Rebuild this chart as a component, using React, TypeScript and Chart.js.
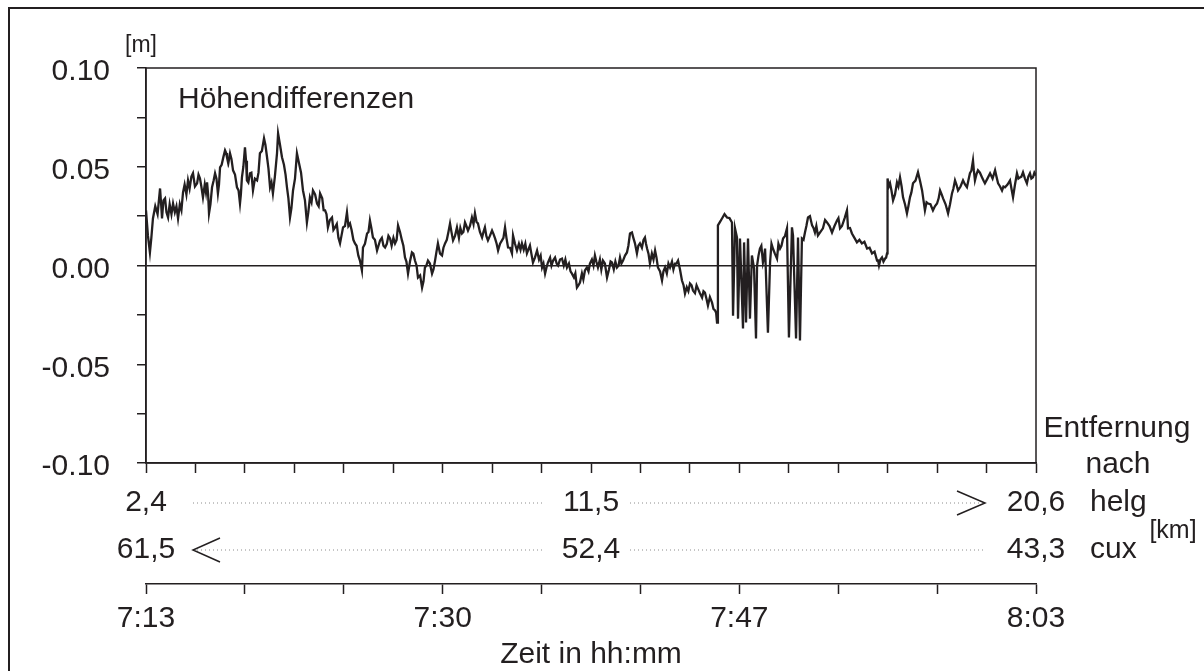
import { useEffect, useRef } from 'react';
import { Chart, registerables } from 'chart.js';

Chart.register(...registerables);

const INK = '#231f20';
const FONT = "'Liberation Sans', Arial, Helvetica, sans-serif";

// Time axis: 7:13 to 8:03, measured in minutes after 7:13, split into 18 tick intervals.
const SPAN_MINUTES = 50;
const TICK_INTERVALS = 18;
const timeLabels = ['7:13', '7:30', '7:47', '8:03'];
const timeLabelTicks = [0, 6, 12, 18];

// Distance rows (km) towards Helgoland and Cuxhaven.
const helgKm = ['2,4', '11,5', '20,6'];
const cuxKm = ['61,5', '52,4', '43,3'];
const kmLabelTicks = [0, 9, 18];

// Height axis (m).
const yTicks = [-0.1, -0.075, -0.05, -0.025, 0, 0.025, 0.05, 0.075, 0.1];
const yLabelled = [-0.1, -0.05, 0, 0.05, 0.1];

// Height differences: [minutes after 7:13, metres]
const traceStart: [number, number][] = [
  [0.0, 0.0279], [0.22, 0.0066], [0.39, 0.0238], [0.79, 0.039], [0.9, 0.0238], [1.07, 0.034], [1.24, 0.0243], [1.52, 0.0314], [1.8, 0.0238], [2.08, 0.037],
  [2.36, 0.0431], [2.64, 0.0467], [2.87, 0.0416], [3.03, 0.0441], [3.2, 0.0345], [3.43, 0.0421], [3.54, 0.0264], [3.71, 0.0396], [3.88, 0.0467], [4.04, 0.0365],
  [4.16, 0.0497], [4.44, 0.0583], [4.55, 0.0548], [4.72, 0.0568], [4.89, 0.0482], [5.11, 0.0396], [5.28, 0.0314], [5.39, 0.0446], [5.56, 0.0598], [5.67, 0.0431],
  [5.84, 0.0467], [6.01, 0.038], [6.24, 0.0431], [6.4, 0.0568], [6.63, 0.0644], [6.8, 0.0548], [6.97, 0.0396], [7.13, 0.0365], [7.36, 0.0568], [7.42, 0.0669],
  [7.64, 0.0548], [7.92, 0.0396], [8.09, 0.0243], [8.26, 0.038], [8.48, 0.0568], [8.6, 0.0517], [8.82, 0.038], [9.04, 0.0218], [9.21, 0.0345], [9.38, 0.038],
  [9.61, 0.0314], [9.78, 0.0365], [10.06, 0.0279], [10.22, 0.0193],
];
const traceStartRipple: [number, number][] = [
  [0.11, 0.015], [0.3, 0.014], [0.52, 0.03], [0.65, 0.026], [0.85, 0.031], [0.98, 0.033], [1.15, 0.027], [1.33, 0.031], [1.43, 0.026], [1.62, 0.027],
  [1.71, 0.03], [1.9, 0.031], [1.99, 0.028], [2.17, 0.041], [2.27, 0.036], [2.45, 0.039], [2.55, 0.045], [2.75, 0.04], [2.95, 0.046], [3.11, 0.04],
  [3.3, 0.041], [3.37, 0.037], [3.49, 0.036], [3.62, 0.031], [3.8, 0.043], [3.96, 0.044], [4.1, 0.041], [4.25, 0.051], [4.35, 0.055], [4.5, 0.057],
  [4.63, 0.052], [4.8, 0.054], [5.0, 0.046], [5.2, 0.038], [5.33, 0.036], [5.47, 0.05], [5.62, 0.053], [5.75, 0.042], [5.92, 0.047], [6.12, 0.044],
  [6.32, 0.047], [6.51, 0.058], [6.71, 0.061], [6.88, 0.049], [7.05, 0.042], [7.24, 0.045], [7.53, 0.061], [7.75, 0.051], [7.84, 0.046], [8.0, 0.034],
  [8.17, 0.029], [8.37, 0.044], [8.71, 0.047], [8.93, 0.033], [9.12, 0.027], [9.3, 0.032], [9.5, 0.036], [9.7, 0.03], [9.9, 0.034], [9.98, 0.028],
  [10.14, 0.026],
];

const traceMiddle: [number, number][] = [
  [10.45, 0.0243], [10.62, 0.0193], [10.9, 0.0112], [11.07, 0.0193], [11.29, 0.0269], [11.46, 0.0213], [11.74, 0.0112], [12.02, 0.0025], [12.13, -0.0025], [12.19, 0.0091],
  [12.42, 0.0162], [12.58, 0.0228], [12.75, 0.0142], [12.98, 0.0076], [13.15, 0.0127], [13.43, 0.0091], [13.71, 0.0137], [13.99, 0.0112], [14.16, 0.0203], [14.38, 0.0127],
  [14.55, 0.0041], [14.72, -0.0041], [14.94, 0.0066], [15.11, 0.0025], [15.28, -0.0061], [15.51, -0.0112], [15.67, -0.001], [15.84, 0.0025], [16.07, -0.0041], [16.24, 0.0025],
  [16.4, 0.0112], [16.63, 0.0051], [16.8, 0.0112], [17.08, 0.0213], [17.25, 0.0127], [17.47, 0.0193], [17.75, 0.0162], [17.92, 0.0218], [18.09, 0.0177], [18.31, 0.0243],
  [18.48, 0.0264], [18.65, 0.0213], [18.88, 0.0142], [19.04, 0.0193], [19.21, 0.0127], [19.44, 0.0177], [19.61, 0.0137], [19.78, 0.0076], [20.0, 0.0127], [20.17, 0.0193],
  [20.34, 0.0091], [20.56, 0.0061],
  [20.62, 0.0152], [20.84, 0.0076], [21.12, 0.0112], [21.4, 0.0061], [21.57, 0.0101], [21.74, 0.0015], [21.97, 0.0076], [22.25, -0.001], [22.42, -0.0041], [22.58, 0.0015],
  [22.87, 0.0025], [23.15, 0.0], [23.37, 0.0035], [23.65, -0.001], [23.93, -0.0041], [24.21, -0.0112], [24.38, -0.0086], [24.66, -0.0025], [24.94, 0.001], [25.22, 0.0051],
  [25.39, -0.001], [25.67, 0.0025], [25.9, -0.0061], [26.18, 0.0015], [26.46, -0.001], [26.63, 0.0041], [26.8, 0.0025], [27.02, 0.0066], [27.19, 0.0162], [27.3, 0.0167],
  [27.47, 0.0112], [27.58, 0.0061], [27.75, 0.0112], [28.03, 0.0142], [28.15, 0.0086], [28.31, 0.001], [28.6, 0.0076], [28.76, -0.001], [28.99, -0.0076], [29.16, -0.001],
  [29.44, -0.001], [29.72, 0.001], [29.89, 0.0025], [30.11, -0.0076], [30.28, -0.0142], [30.56, -0.0091], [30.73, -0.0127], [31.01, -0.0117], [31.24, -0.0162], [31.4, -0.0137],
  [31.57, -0.0203],
];
const traceMiddleRipple: [number, number][] = [
  [10.33, 0.023], [10.53, 0.018], [10.72, 0.021], [10.81, 0.014], [10.98, 0.015], [11.18, 0.02], [11.37, 0.02], [11.55, 0.018], [11.65, 0.013], [11.83, 0.01],
  [11.93, 0.005], [12.3, 0.011], [12.5, 0.017], [12.66, 0.019], [12.86, 0.013], [13.06, 0.01], [13.25, 0.014], [13.34, 0.01], [13.53, 0.011], [13.62, 0.015],
  [13.8, 0.01], [13.9, 0.014], [14.08, 0.013], [14.27, 0.017], [14.46, 0.01], [14.63, 0.002], [14.83, 0.002], [15.02, 0.006], [15.2, 0.0], [15.4, -0.005],
  [15.59, -0.008], [15.75, 0.0], [15.95, 0.001], [16.15, -0.002], [16.32, 0.007], [16.52, 0.006], [16.71, 0.009], [16.9, 0.013], [16.99, 0.017], [17.16, 0.017],
  [17.36, 0.015], [17.58, 0.014], [17.66, 0.019], [17.83, 0.017], [18.0, 0.02], [18.2, 0.02], [18.4, 0.021], [18.57, 0.022], [18.76, 0.017], [18.96, 0.017],
  [19.12, 0.015], [19.32, 0.015], [19.52, 0.016], [19.7, 0.011], [19.89, 0.011], [20.08, 0.014], [20.25, 0.014], [20.45, 0.009], [20.73, 0.011], [20.95, 0.011],
  [21.04, 0.008], [21.22, 0.008], [21.31, 0.011], [21.48, 0.008], [21.65, 0.006], [21.85, 0.004], [22.08, 0.003], [22.17, 0.005], [22.33, 0.001], [22.5, -0.001],
  [22.7, 0.004], [22.78, 0.0], [22.98, 0.004], [23.07, 0.001], [23.26, 0.003], [23.47, 0.0], [23.56, 0.003], [23.76, 0.001], [23.85, -0.003], [24.04, -0.006],
  [24.12, -0.004], [24.3, -0.01], [24.49, -0.004], [24.57, -0.007], [24.77, -0.001], [24.86, -0.003], [25.05, 0.003], [25.14, 0.0], [25.3, 0.002], [25.5, 0.003],
  [25.58, -0.002], [25.78, 0.001], [26.01, -0.002], [26.1, 0.002], [26.28, -0.002], [26.37, 0.002], [26.55, 0.0], [26.71, 0.001], [26.91, 0.005], [27.1, 0.01],
  [27.38, 0.014], [27.66, 0.01], [27.86, 0.009], [27.95, 0.013], [28.09, 0.011], [28.23, 0.006], [28.42, 0.006], [28.51, 0.003], [28.68, 0.004], [28.88, -0.003],
  [29.07, -0.003], [29.26, -0.004], [29.35, 0.001], [29.55, 0.002], [29.63, -0.002], [29.8, 0.001], [30.0, -0.002], [30.2, -0.01], [30.38, -0.011], [30.47, -0.013],
  [30.65, -0.01], [30.84, -0.014], [30.93, -0.01], [31.12, -0.014], [31.32, -0.013], [31.49, -0.017],
];

// Section with signal dropouts, ending before the step near 7:55.
const traceDropouts: [number, number][] = [
  [31.8, -0.0188], [31.97, -0.0228], [32.08, -0.0289], [32.13, 0.0203], [32.36, 0.0238], [32.64, 0.0243], [32.92, 0.0218], [32.98, -0.0254], [33.09, 0.0188], [33.2, 0.0142],
  [33.26, -0.0269], [33.37, 0.0137], [33.54, -0.0319], [33.6, 0.0117], [33.71, -0.0289], [33.82, 0.0137], [33.93, -0.0269], [34.04, 0.0051], [34.16, -0.0015], [34.27, -0.037],
  [34.33, 0.0], [34.49, 0.0086], [34.66, 0.0015], [34.78, 0.0086], [34.94, -0.034], [35.06, 0.0015], [35.22, 0.0086], [35.45, 0.0035], [35.62, 0.0086], [35.79, 0.0137],
  [36.01, 0.0188], [36.12, -0.0365], [36.29, 0.0193], [36.35, 0.0152], [36.52, -0.037], [36.63, 0.0142], [36.74, -0.038], [36.85, 0.0137], [37.02, 0.0167], [37.19, 0.0243],
  [37.42, 0.0203], [37.58, 0.0167], [37.75, 0.0152], [38.03, 0.0188], [38.26, 0.0218], [38.54, 0.0167], [38.82, 0.0228], [38.99, 0.0188], [39.38, 0.0279], [39.44, 0.0188],
  [39.66, 0.0162], [39.94, 0.0117], [40.22, 0.0112], [40.51, 0.0086], [40.79, 0.0061], [41.07, 0.0025], [41.18, 0.0], [41.35, 0.0041], [41.52, 0.0035], [41.63, 0.0061],
];
const traceDropoutsRipple: [number, number][] = [
  [31.68, -0.016], [31.88, -0.022], [32.03, -0.024], [32.24, 0.022], [32.5, 0.026], [32.78, 0.024], [34.41, 0.005], [34.57, 0.01], [34.72, 0.004], [35.14, 0.011],
  [35.33, 0.006], [35.53, 0.011], [35.7, 0.01], [35.9, 0.015], [36.94, 0.013], [37.1, 0.02], [37.3, 0.025], [37.5, 0.019], [37.66, 0.02], [37.89, 0.017],
  [38.15, 0.023], [38.4, 0.02], [38.68, 0.02], [38.9, 0.024], [39.1, 0.02], [39.25, 0.024], [39.55, 0.019], [39.8, 0.014], [40.08, 0.013], [40.36, 0.012],
  [40.65, 0.009], [40.93, 0.007], [41.12, 0.003], [41.26, 0.003], [41.43, 0.002], [41.58, 0.004],
];

const traceEnd: [number, number][] = [
  [41.66, 0.0441], [41.8, 0.0416], [41.97, 0.033], [42.19, 0.0421], [42.36, 0.0446], [42.53, 0.0345], [42.75, 0.0264], [42.92, 0.0345], [43.09, 0.0416], [43.37, 0.0472],
  [43.6, 0.038], [43.76, 0.0279], [43.93, 0.0314], [44.21, 0.0279], [44.44, 0.0314], [44.61, 0.038], [44.78, 0.034], [45.06, 0.0264], [45.28, 0.0365], [45.45, 0.0431],
  [45.62, 0.038], [45.9, 0.0431], [46.12, 0.0396], [46.29, 0.0467], [46.46, 0.0532], [46.57, 0.0431], [46.74, 0.0482], [46.97, 0.0446], [47.13, 0.0416], [47.42, 0.0467],
  [47.7, 0.0482], [47.87, 0.0416], [48.09, 0.038], [48.26, 0.0396], [48.54, 0.0431], [48.71, 0.0345], [48.93, 0.0467], [49.1, 0.0446], [49.27, 0.0472], [49.49, 0.0416],
  [49.66, 0.0467], [49.83, 0.0446], [50.0, 0.0456],
];
const traceEndRipple: [number, number][] = [
  [41.73, 0.04], [41.88, 0.038], [42.08, 0.036], [42.27, 0.04], [42.45, 0.04], [42.64, 0.031], [42.83, 0.03], [43.0, 0.037], [43.23, 0.043], [43.48, 0.043],
  [43.68, 0.033], [43.85, 0.032], [44.07, 0.031], [44.32, 0.03], [44.53, 0.034], [44.7, 0.036], [44.92, 0.031], [45.17, 0.031], [45.36, 0.039], [45.53, 0.041],
  [45.76, 0.04], [46.01, 0.041], [46.2, 0.043], [46.37, 0.048], [46.51, 0.048], [46.65, 0.046], [46.85, 0.047], [47.05, 0.043], [47.27, 0.044], [47.56, 0.044],
  [47.78, 0.045], [47.98, 0.04], [48.17, 0.04], [48.4, 0.041], [48.62, 0.039], [48.82, 0.041], [49.01, 0.044], [49.18, 0.045], [49.38, 0.044], [49.57, 0.045],
  [49.74, 0.044], [49.91, 0.047],
];

const heightTrace = [
  ...traceStart, ...traceStartRipple,
  ...traceMiddle, ...traceMiddleRipple,
  ...traceDropouts, ...traceDropoutsRipple,
  ...traceEnd, ...traceEndRipple,
]
  .map(([x, y]) => ({ x, y }))
  .sort((a, b) => a.x - b.x);

const timeGrid = () =>
  Array.from({ length: TICK_INTERVALS + 1 }, (_, i) => ({ value: (i * SPAN_MINUTES) / TICK_INTERVALS }));

const labelAt = (labels: string[], at: number[]) => (_v: unknown, index: number) => {
  const k = at.indexOf(index);
  return k >= 0 ? labels[k] : '';
};

const BIG = 30;
const HELG_PAD = 2;
const CUX_PAD = 4;

const decorations = {
  id: 'decorations',
  afterDraw(chart: any) {
    const { ctx, chartArea: ca, scales } = chart;
    const helg = scales.helg;
    const cux = scales.cux;
    ctx.save();

    // plot frame (top and right edges complete the axis lines)
    ctx.strokeStyle = INK;
    ctx.lineWidth = 1.5;
    ctx.strokeRect(ca.left, ca.top, ca.right - ca.left, ca.bottom - ca.top);

    // outer figure frame
    ctx.lineWidth = 2;
    ctx.strokeRect(9, 8, 1260, 720);

    ctx.fillStyle = INK;
    ctx.textBaseline = 'middle';

    ctx.font = `${BIG}px ${FONT}`;
    ctx.textAlign = 'left';
    ctx.fillText('Höhendifferenzen', ca.left + 32, ca.top + 32);

    ctx.textAlign = 'center';
    ctx.fillText('Entfernung', ca.right + 81, ca.bottom - 34);
    ctx.fillText('nach', ca.right + 82, ca.bottom + 2);

    const rowHelg = helg.top + HELG_PAD + (BIG * 1.2) / 2;
    const rowCux = cux.top + CUX_PAD + (BIG * 1.2) / 2;
    ctx.textAlign = 'left';
    ctx.fillText('helg', ca.right + 54, rowHelg);
    ctx.fillText('cux', ca.right + 54, rowCux);

    ctx.textAlign = 'center';
    ctx.font = `23px ${FONT}`;
    ctx.fillText('[m]', ca.left - 5, ca.top - 22);
    ctx.font = `25px ${FONT}`;
    ctx.fillText('[km]', ca.right + 137, (rowHelg + rowCux) / 2 + 5);

    // dotted guides between the distance labels
    const p0 = helg.getPixelForValue(0);
    const p9 = helg.getPixelForValue((9 * SPAN_MINUTES) / TICK_INTERVALS);
    const p18 = helg.getPixelForValue(SPAN_MINUTES);
    ctx.strokeStyle = '#8c8c8c';
    ctx.lineWidth = 1;
    ctx.setLineDash([1, 3]);
    const dotted = (x1: number, x2: number, y: number) => {
      ctx.beginPath();
      ctx.moveTo(x1, y);
      ctx.lineTo(x2, y);
      ctx.stroke();
    };
    dotted(p0 + 47, p9 - 48, rowHelg);
    dotted(p9 + 39, p18 - 51, rowHelg);
    dotted(p0 + 47, p9 - 48, rowCux);
    dotted(p9 + 39, p18 - 53, rowCux);

    // direction arrows
    ctx.setLineDash([]);
    ctx.strokeStyle = INK;
    ctx.lineWidth = 1.5;
    ctx.beginPath();
    ctx.moveTo(p18 - 79, rowHelg - 12);
    ctx.lineTo(p18 - 51, rowHelg);
    ctx.lineTo(p18 - 79, rowHelg + 12);
    ctx.stroke();
    ctx.beginPath();
    ctx.moveTo(p0 + 74, rowCux - 12);
    ctx.lineTo(p0 + 47, rowCux);
    ctx.lineTo(p0 + 74, rowCux + 12);
    ctx.stroke();

    ctx.restore();
  },
};

export default function App() {
  const canvasRef = useRef<HTMLCanvasElement | null>(null);

  useEffect(() => {
    const canvas = canvasRef.current;
    if (!canvas) return;

    Chart.defaults.font.family = FONT;
    Chart.defaults.color = INK;

    const chart = new Chart(canvas, {
      type: 'line',
      data: {
        datasets: [
          {
            label: 'Höhendifferenzen',
            data: heightTrace,
            borderColor: INK,
            borderWidth: 2.3,
            pointRadius: 0,
            tension: 0,
            xAxisID: 'x',
            yAxisID: 'y',
          },
        ],
      },
      options: {
        animation: false,
        responsive: false,
        devicePixelRatio: 1,
        layout: { padding: { top: 68, right: 168, bottom: 0, left: 0 } },
        plugins: { legend: { display: false }, tooltip: { enabled: false } },
        scales: {
          x: {
            type: 'linear',
            position: 'bottom',
            weight: 0,
            min: 0,
            max: SPAN_MINUTES,
            afterBuildTicks: (s: any) => { s.ticks = timeGrid(); },
            afterFit: (s: any) => { s.height = 20; },
            border: { display: true, color: INK, width: 1.5 },
            grid: { drawOnChartArea: false, drawTicks: true, tickLength: 10, tickColor: INK, tickWidth: 1.5 },
            ticks: { display: false },
          },
          helg: {
            type: 'linear',
            position: 'bottom',
            weight: 1,
            min: 0,
            max: SPAN_MINUTES,
            afterBuildTicks: (s: any) => { s.ticks = timeGrid(); },
            afterFit: (s: any) => { s.height = 45; },
            border: { display: false },
            grid: { display: false, drawTicks: false },
            ticks: { autoSkip: false, maxRotation: 0, padding: HELG_PAD, color: INK, font: { size: BIG }, callback: labelAt(helgKm, kmLabelTicks) },
          },
          cux: {
            type: 'linear',
            position: 'bottom',
            weight: 2,
            min: 0,
            max: SPAN_MINUTES,
            afterBuildTicks: (s: any) => { s.ticks = timeGrid(); },
            afterFit: (s: any) => { s.height = 56; },
            border: { display: false },
            grid: { display: false, drawTicks: false },
            ticks: { autoSkip: false, maxRotation: 0, padding: CUX_PAD, color: INK, font: { size: BIG }, callback: labelAt(cuxKm, kmLabelTicks) },
          },
          time: {
            type: 'linear',
            position: 'bottom',
            weight: 3,
            min: 0,
            max: SPAN_MINUTES,
            afterBuildTicks: (s: any) => { s.ticks = timeGrid(); },
            afterFit: (s: any) => { s.height = 87; },
            border: { display: true, color: INK, width: 1.5 },
            grid: { drawOnChartArea: false, drawTicks: true, tickLength: 10, tickColor: INK, tickWidth: 1.5 },
            ticks: { autoSkip: false, maxRotation: 0, padding: 7, color: INK, font: { size: BIG }, callback: labelAt(timeLabels, timeLabelTicks) },
            title: { display: true, text: 'Zeit in hh:mm', color: INK, font: { size: BIG, lineHeight: 1.1 }, padding: { top: 0, bottom: 0 } },
          },
          y: {
            type: 'linear',
            position: 'left',
            min: -0.1,
            max: 0.1,
            afterBuildTicks: (s: any) => { s.ticks = yTicks.map((value) => ({ value })); },
            afterFit: (s: any) => { s.width = 146; },
            border: { display: true, color: INK, width: 1.5 },
            grid: {
              drawTicks: true,
              tickLength: 9,
              tickColor: INK,
              tickWidth: 1.5,
              lineWidth: 1.5,
              color: (c: any) => (c.tick && Math.abs(c.tick.value) < 1e-9 ? INK : 'rgba(0,0,0,0)'),
            },
            ticks: {
              padding: 27,
              labelOffset: 4,
              color: INK,
              font: { size: BIG },
              callback: (v: any) => (yLabelled.some((l) => Math.abs(l - v) < 1e-9) ? Number(v).toFixed(2) : ''),
            },
          },
        },
      },
      plugins: [decorations],
    } as any);

    return () => chart.destroy();
  }, []);

  return (
    <div style={{ position: 'fixed', left: 0, top: 0, width: 1204, height: 671, background: '#fff' }}>
      <canvas ref={canvasRef} width={1204} height={671} style={{ display: 'block', width: 1204, height: 671 }} />
    </div>
  );
}
